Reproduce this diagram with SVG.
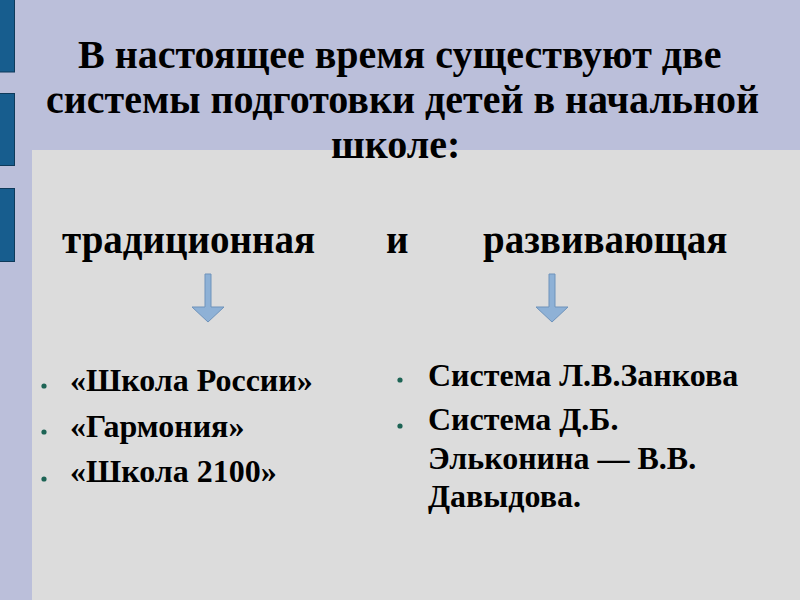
<svg xmlns="http://www.w3.org/2000/svg" width="800" height="600" viewBox="0 0 800 600">
<defs>
<style>
.title{font-size:40px}
.sub{font-size:39px}
.item{font-size:32px}
.bar{fill:#175d8e;stroke:#0e3a5a;stroke-width:1}
.arrow{fill:#8eb1d6;stroke:#6f93bb;stroke-width:1}
.dot{fill:#1d6455}
</style>
</defs>
<rect x="0" y="0" width="800" height="600" fill="#bbbfda"/>
<g id="bars">
<rect class="bar" x="-1" y="-1" width="15.5" height="73"/>
<rect class="bar" x="-1" y="93.5" width="15.5" height="72"/>
<rect class="bar" x="-1" y="188.5" width="15.5" height="73"/>
</g>
<rect id="panel" x="32" y="150" width="768" height="450" fill="#dcdcdc"/>
<g font-family="Liberation Serif, serif" font-weight="bold" fill="#000">
<g id="title">
<text class="title" x="78" y="68">В настоящее время существуют две</text>
<text class="title" x="46" y="113">системы подготовки детей в начальной</text>
<text class="title" x="331" y="158">школе:</text>
</g>
<g id="node-traditional">
<text class="sub" x="62" y="253">традиционная</text>
</g>
<g id="node-and">
<text class="sub" x="386" y="253">и</text>
</g>
<g id="node-developing">
<text class="sub" x="483" y="253">развивающая</text>
</g>
<g id="list-traditional">
<circle class="dot" cx="44" cy="386" r="2.6"/>
<circle class="dot" cx="44" cy="432" r="2.6"/>
<circle class="dot" cx="44" cy="479" r="2.6"/>
<text class="item" x="70" y="391">«Школа России»</text>
<text class="item" x="70" y="437">«Гармония»</text>
<text class="item" x="70" y="482">«Школа 2100»</text>
</g>
<g id="list-developing">
<circle class="dot" cx="400" cy="380" r="2.6"/>
<circle class="dot" cx="400" cy="426" r="2.6"/>
<text class="item" x="428" y="386">Система Л.В.Занкова</text>
<text class="item" x="428" y="430">Система Д.Б.</text>
<text class="item" x="428" y="469">Эльконина — В.В.</text>
<text class="item" x="428" y="507">Давыдова.</text>
</g>
</g>
<g id="connectors">
<path class="arrow" d="M205,274 H211 V307 H224 L208,322 L192,307 H205 Z"/>
<path class="arrow" d="M549,274 H555 V307 H568 L552,322 L536,307 H549 Z"/>
</g>
</svg>
